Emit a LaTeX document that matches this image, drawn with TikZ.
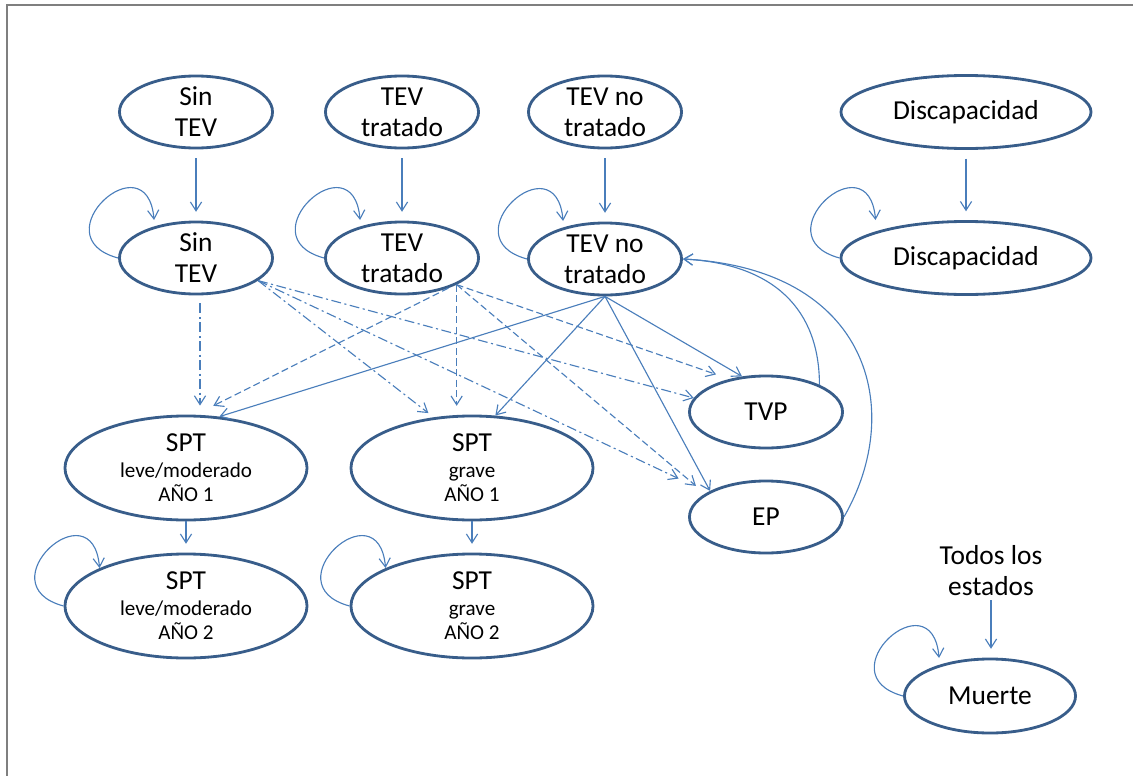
\documentclass[tikz,border=0pt]{standalone}
\usepackage{fontspec}
\setmainfont{Carlito}
\usetikzlibrary{arrows.meta,shapes.geometric}
\definecolor{StateLine}{HTML}{385D8A}
\definecolor{EdgeBlue}{HTML}{4A7EBB}
\definecolor{FrameGray}{HTML}{7F7F7F}
\newcommand{\subf}{\fontsize{15}{17}\selectfont}

\begin{document}
\begin{tikzpicture}[x=0.025cm,y=0.025cm,>={Straight Barb[length=2.2mm,width=2.8mm]},
    state/.style={ellipse,draw=StateLine,line width=2pt,inner sep=-6pt,align=center,
      minimum width=3.825cm,minimum height=1.8cm,font=\fontsize{19.5}{22}\selectfont},
    wide/.style={state,minimum width=6.25cm,minimum height=1.825cm},
    spt/.style={state,minimum width=6.05cm,minimum height=2.6cm},
    edge/.style={EdgeBlue,line width=0.8pt,->},
    dashe/.style={edge,dash pattern=on 5pt off 2.5pt},
    dotdash/.style={edge,dash pattern=on 7pt off 2.5pt on 1.5pt off 2.5pt},
    gap/.style={shorten <=2.2mm,shorten >=2.2mm}]
  \useasboundingbox (0,0) rectangle (1133,-776);
  \draw[FrameGray,line width=1.1pt] (1133,-5) -- (7,-5) -- (7,-776);

  \node[state] (sin0) at (196,-112) {Sin\\TEV};
  \node[state] (tra0) at (402,-112) {TEV\\tratado};
  \node[state] (notra0) at (605,-112) {TEV no\\tratado};
  \node[wide] (dis0) at (966,-112) {Discapacidad};

  \node[state] (sin1) at (196,-258) {Sin\\TEV};
  \node[state] (tra1) at (402,-258) {TEV\\tratado};
  \node[state] (notra1) at (605,-259) {TEV no\\tratado};
  \node[wide] (dis1) at (966,-258) {Discapacidad};

  \node[spt] (leve1) at (186,-468) {SPT\\[-3.5pt]{\subf leve/moderado}\\[-5pt]{\subf AÑO 1}};
  \node[spt] (grave1) at (472,-468) {SPT\\[-3.5pt]{\subf grave}\\[-5pt]{\subf AÑO 1}};
  \node[spt] (leve2) at (186,-606) {SPT\\[-3.5pt]{\subf leve/moderado}\\[-5pt]{\subf AÑO 2}};
  \node[spt] (grave2) at (472,-606) {SPT\\[-3.5pt]{\subf grave}\\[-5pt]{\subf AÑO 2}};

  \node[state] (tvp) at (766,-412) {TVP};
  \node[state] (ep) at (766,-517) {EP};

  \node[align=center,inner sep=0pt,font=\fontsize{19.5}{22}\selectfont] (todos) at (991,-571) {Todos los\\estados};
  \node[state,minimum width=4.275cm,minimum height=1.85cm] (muerte) at (990,-696) {Muerte};

  \foreach \a/\b in {sin0/sin1,tra0/tra1,notra0/notra1,dis0/dis1}
    \draw[edge,gap] (\a) -- (\b);
  \draw[edge,shorten >=2.2mm] (leve1) -- (leve2);
  \draw[edge,shorten >=2.2mm] (grave1) -- (grave2);
  \draw[edge,shorten <=1mm,shorten >=2.2mm] (todos.south) -- (todos.south |- muerte.north);

  \foreach \s in {sin1,tra1,notra1,dis1,leve2,grave2,muerte}
    \draw[edge] (\s.west) to[out=165,in=95,looseness=4] ([shift={(36,38)}]\s.west);

  \draw[dotdash] ([shift={(4,-8)}]sin1.south) -- ([shift={(14,9)}]leve1.north);
  \draw[dotdash,shorten >=1.7mm] (sin1.-20) -- (grave1.127);
  \draw[dotdash] (sin1.-20) -- (tvp.169);
  \draw[dotdash,shorten >=8mm] (sin1.-20) -- (ep.157);

  \draw[dashe,shorten >=5mm] (tra1.-33) -- (leve1.80);
  \draw[dashe,shorten >=2.2mm] (tra1.-26) -- (tra1.-26 |- grave1.north);
  \draw[dashe,shorten >=3.5mm] (tra1.-26) -- (tvp.138);
  \draw[dashe,shorten >=3mm] (tra1.-26) -- (ep.159);

  \draw[edge] (notra1.south) -- (leve1.57);
  \draw[edge] (notra1.south) -- (grave1.66);
  \draw[edge] (notra1.south) -- (tvp.124);
  \draw[edge] (notra1.south) -- (ep.155);

  \draw[edge] (tvp.27) to[out=90,in=-3,out looseness=1.04,in looseness=1.26] (notra1.east);
  \draw[edge] (ep.east) to[out=60,in=-3,out looseness=1.04,in looseness=1.58] (notra1.east);
\end{tikzpicture}
\end{document}
